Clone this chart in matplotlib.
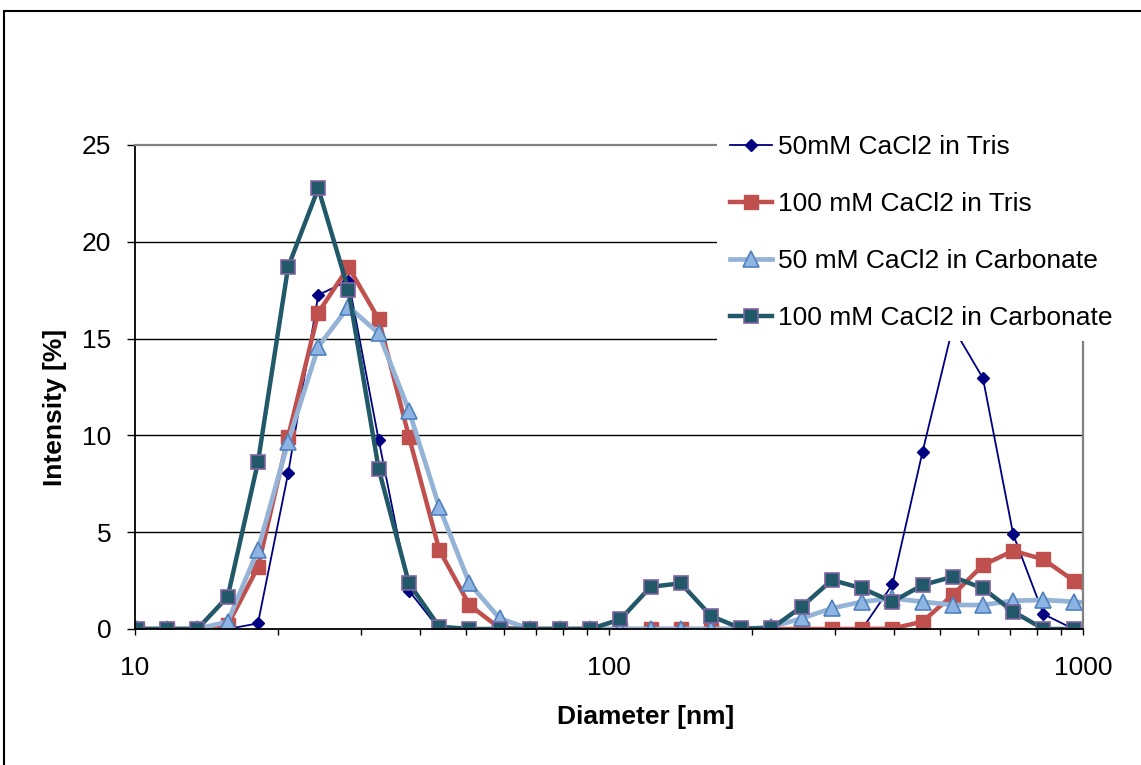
import matplotlib.pyplot as plt
from matplotlib.patches import Rectangle
from matplotlib.ticker import FixedLocator, NullFormatter

plt.rcParams['font.family'] = ['Liberation Sans', 'DejaVu Sans']
plt.rcParams['font.size'] = 19

# size bins (nm)
diameter = [10.1, 11.7, 13.54, 15.69, 18.17, 21.04, 24.36, 28.21, 32.67, 37.84, 43.82,
            50.75, 58.77, 68.06, 78.82, 91.28, 105.7, 122.4, 141.8, 164.2, 190.1, 220.2,
            255.0, 295.3, 342.0, 396.1, 458.7, 531.2, 615.1, 712.4, 825.0, 955.4, 1106]

tris_50 = [0, 0, 0, 0, 0.29, 8.04, 17.25, 18.0, 9.76, 1.98, 0,
           0, 0, 0, 0, 0, 0, 0, 0, 0, 0, 0,
           0, 0, 0, 2.3, 9.16, 15.6, 12.95, 4.89, 0.77, 0, 0]
tris_100 = [0, 0, 0, 0.2, 3.2, 9.93, 16.34, 18.7, 16.0, 9.93, 4.1,
            1.24, 0.05, 0, 0, 0, 0, 0, 0, 0, 0, 0,
            0, 0, 0, 0.02, 0.38, 1.76, 3.3, 4.04, 3.6, 2.5, 1.2]
carb_50 = [0, 0, 0, 0.38, 4.08, 9.67, 14.58, 16.65, 15.27, 11.28, 6.32,
           2.36, 0.55, 0, 0, 0, 0, 0, 0, 0, 0, 0.1,
           0.55, 1.07, 1.41, 1.58, 1.41, 1.24, 1.24, 1.46, 1.5, 1.41, 1.3]
carb_100 = [0, 0, 0, 1.67, 8.61, 18.7, 22.76, 17.5, 8.26, 2.36, 0.12,
            0, 0, 0, 0, 0, 0.5, 2.18, 2.36, 0.67, 0.03, 0.03,
            1.15, 2.53, 2.1, 1.41, 2.27, 2.7, 2.1, 0.9, 0, 0, 0]

labels = ['50mM CaCl2 in Tris', '100 mM CaCl2 in Tris',
          '50 mM CaCl2 in Carbonate', '100 mM CaCl2 in Carbonate']

W, H = 1141, 765
fig = plt.figure(figsize=(W / 100, H / 100), dpi=100)
ax = fig.add_axes([135 / W, 1 - 629 / H, (1083 - 135) / W, (629 - 145) / H])

ax.plot(diameter, tris_50, color='#000080', lw=1.3, marker='D', ms=6,
        mfc='#000080', mec='#000080', label=labels[0])
ax.plot(diameter, tris_100, color='#C0504D', lw=3.2, marker='s', ms=10.5,
        mfc='#C0504D', mec='#C0504D', label=labels[1])
ax.plot(diameter, carb_50, color='#95B3D7', lw=3.4, marker='^', ms=11,
        mfc='#8DB4E3', mec='#4F81BD', mew=1.2, label=labels[2])
ax.plot(diameter, carb_100, color='#215968', lw=3.2, marker='s', ms=9.8,
        mfc='#215968', mec='#8064A2', mew=1.2, label=labels[3])

ax.set_xscale('log')
ax.set_xlim(10, 1000)
ax.set_ylim(0, 25)
ax.xaxis.set_major_locator(FixedLocator([10, 100, 1000]))
ax.set_xticklabels(['10', '100', '1000'])
ax.xaxis.set_minor_locator(FixedLocator([20, 30, 40, 50, 60, 70, 80, 90,
                                         200, 300, 400, 500, 600, 700, 800, 900]))
ax.xaxis.set_minor_formatter(NullFormatter())
ax.set_yticks([0, 5, 10, 15, 20, 25])

ax.tick_params(axis='x', which='both', direction='out', length=4.5, width=1, pad=15)
ax.tick_params(axis='y', direction='out', length=6, width=1, pad=11)

# gridlines black, plot area border grey
for v in [5, 10, 15, 20]:
    ax.axhline(v, color='black', lw=1, zorder=0.5)
ax.spines['left'].set_color('black')
ax.spines['bottom'].set_color('black')
ax.spines['left'].set_linewidth(1.3)
ax.spines['bottom'].set_linewidth(1.3)
ax.spines['top'].set_color('#808080')
ax.spines['right'].set_color('#808080')
ax.spines['top'].set_linewidth(1.6)
ax.spines['right'].set_linewidth(1.6)

ax.set_xlabel('Diameter [nm]', fontweight='bold')
ax.xaxis.set_label_coords((646 - 135) / 948, -(717 - 629) / 484)
ax.xaxis.label.set_va('center')
ax.set_ylabel('Intensity [%]', fontweight='bold')
ax.yaxis.set_label_coords(-(135 - 55) / 948, (629 - 407) / 484)
ax.yaxis.label.set_va('center')

# white legend area covering the top right of the plot
fig.patches.append(Rectangle((717 / W, 1 - 341 / H), (W - 717) / W + 0.01, (341 - 118) / H,
                             transform=fig.transFigure, facecolor='white',
                             edgecolor='none', zorder=2))
fig.legend(loc='upper left', bbox_to_anchor=(730 / W, 1 - 135 / H), frameon=False,
           borderpad=0, borderaxespad=0, handlelength=1.6, handletextpad=0.2,
           labelspacing=1.25, fontsize=19)

# chart border
fig.patches.append(Rectangle((4 / W, -0.05), 1.1, 1.05 - 11 / H, transform=fig.transFigure,
                             facecolor='none', edgecolor='black', lw=1.5, zorder=3))

fig.savefig('out.png', dpi=100)
